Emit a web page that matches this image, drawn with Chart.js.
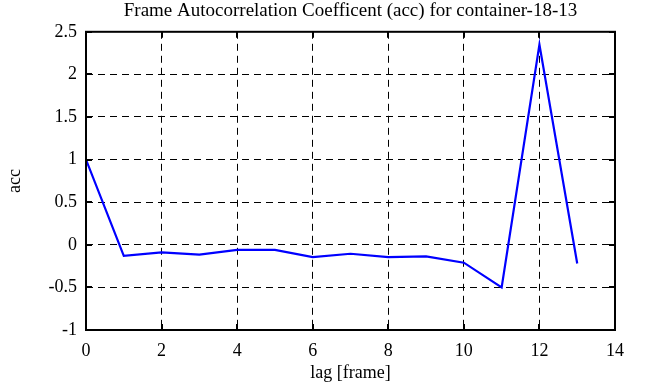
<!DOCTYPE html>
<html>
<head>
<meta charset="utf-8">
<script src="https://cdn.jsdelivr.net/npm/chart.js@4/dist/chart.umd.min.js"></script>
<style>
  html, body { margin: 0; padding: 0; background: #fff; }
  #wrap { width: 651px; height: 387px; }
</style>
</head>
<body>
<div id="wrap"><canvas id="accChart"></canvas></div>
<script>
const lags = [0, 1, 2, 3, 4, 5, 6, 7, 8, 9, 10, 11, 12, 13];
const acc  = [1.0, -0.13, -0.09, -0.115, -0.06, -0.06, -0.145, -0.105, -0.145, -0.135, -0.21, -0.5, 2.35, -0.22];
const xTicks = [0, 2, 4, 6, 8, 10, 12, 14];
const yTicks = [-1, -0.5, 0, 0.5, 1, 1.5, 2, 2.5];

const serif = 'Liberation Serif, Times New Roman, serif';

// black frame with inward tick marks on all four sides
const framePlugin = {
  id: 'frame',
  afterDraw(chart) {
    const { ctx, chartArea: a, scales: { x, y } } = chart;
    const len = 6;
    ctx.save();
    ctx.strokeStyle = '#000';
    ctx.lineWidth = 2;
    ctx.beginPath();
    xTicks.forEach(v => {
      const px = Math.round(x.getPixelForValue(v));
      ctx.moveTo(px, a.bottom); ctx.lineTo(px, a.bottom - len);
      ctx.moveTo(px, a.top); ctx.lineTo(px, a.top + len);
    });
    yTicks.forEach(v => {
      const py = Math.round(y.getPixelForValue(v));
      ctx.moveTo(a.left, py); ctx.lineTo(a.left + len, py);
      ctx.moveTo(a.right, py); ctx.lineTo(a.right - len, py);
    });
    ctx.stroke();
    ctx.strokeRect(a.left, a.top, a.right - a.left, a.bottom - a.top);
    ctx.restore();
  }
};

new Chart(document.getElementById('accChart'), {
  type: 'line',
  data: {
    datasets: [{
      data: lags.map((l, i) => ({ x: l, y: acc[i] })),
      borderColor: '#0000ff',
      borderWidth: 2.2,
      pointRadius: 0,
      tension: 0,
      fill: false
    }]
  },
  options: {
    responsive: true,
    maintainAspectRatio: false,
    animation: false,
    layout: { padding: { top: 0, right: 36, bottom: 0, left: 0 } },
    plugins: {
      legend: { display: false },
      tooltip: { enabled: false },
      title: {
        display: true,
        fullSize: false,
        text: 'Frame Autocorrelation Coefficent (acc) for container-18-13',
        color: '#000',
        font: { family: serif, size: 19, weight: 'normal' },
        padding: { top: 0, bottom: 9 }
      }
    },
    scales: {
      x: {
        type: 'linear',
        min: 0, max: 14,
        afterFit(s) { s.height = 57; },
        afterBuildTicks(s) { s.ticks = xTicks.map(v => ({ value: v })); },
        grid: { color: '#000', lineWidth: 1, drawTicks: false },
        border: { display: false, dash: [7, 5] },
        ticks: {
          color: '#000', font: { family: serif, size: 18 }, padding: 10, maxRotation: 0,
          callback: v => String(v)
        },
        title: {
          display: true, text: 'lag [frame]', color: '#000',
          font: { family: serif, size: 18 }, padding: { top: 0, bottom: 3 }
        }
      },
      y: {
        type: 'linear',
        min: -1, max: 2.5,
        afterFit(s) { s.width = 86; },
        afterBuildTicks(s) { s.ticks = yTicks.map(v => ({ value: v })); },
        grid: { color: '#000', lineWidth: 1, drawTicks: false },
        border: { display: false, dash: [7, 5] },
        ticks: {
          color: '#000', font: { family: serif, size: 18 }, padding: 9,
          callback: v => String(v)
        },
        title: {
          display: true, text: 'acc', color: '#000',
          font: { family: serif, size: 18 }, padding: { top: 4, bottom: 0 }
        }
      }
    }
  },
  plugins: [framePlugin]
});
</script>
</body>
</html>
